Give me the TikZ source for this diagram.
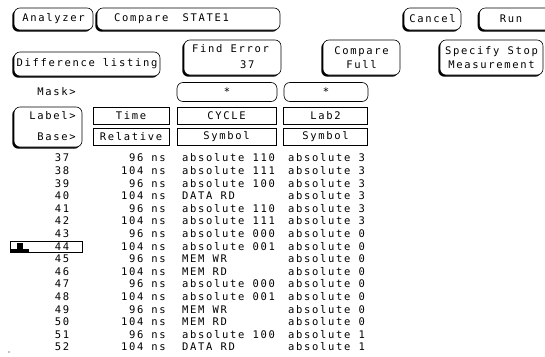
\documentclass[tikz,border=0pt]{standalone}
\usepackage{fontspec}
\setmonofont{DejaVu Sans Mono}[LetterSpace=16]
\usetikzlibrary{shadows}
\begin{document}
\begin{tikzpicture}[x=1pt,y=-1pt,
  every node/.style={font=\ttfamily\fontsize{10.5}{12}\selectfont, inner sep=0pt},
  txt/.style={},
  btn/.style={draw, line width=0.6pt, rounded corners=6pt, fill=white,
    drop shadow={shadow xshift=-1.7pt, shadow yshift=-1.7pt, opacity=1, fill=black}},
  pill/.style={draw, line width=0.6pt, rounded corners=6pt, fill=white},
  hdr/.style={draw, line width=0.6pt, fill=white}]
\useasboundingbox (0,0) rectangle (545,356);
\clip (0,0) rectangle (545,356);
% top row
\node[btn, minimum width=79pt, minimum height=22pt] (analyzer) at (53.5,19) {Analyzer};
\node[btn, minimum width=183pt, minimum height=22pt] (compare) at (188.5,19) {};
\node[txt, anchor=west] (comparet) at (114,19) {Compare\hspace{6pt} STATE1};
\node[btn, minimum width=57pt, minimum height=22pt] (cancel) at (432.5,19) {Cancel};
\node[btn, minimum width=90pt, minimum height=22pt, anchor=west] (run) at (479,19) {};
\node[txt] (runt) at (511,19) {Run};
% second row
\node[btn, minimum width=146pt, minimum height=24pt] (diff) at (87,64) {Difference listing};
\node[btn, minimum width=97pt, minimum height=35pt] (finderr) at (232.5,57.5) {};
\node[txt, anchor=west] (finderrt) at (192,49) {Find Error};
\node[txt, anchor=west] (finderrn) at (240,65) {37};
\node[btn, minimum width=77pt, minimum height=35pt, align=center] (cmpfull) at (361.5,57.5) {Compare\\[2pt]Full};
\node[btn, minimum width=103pt, minimum height=35pt, align=center] (stop) at (491.5,57.5) {Specify Stop\\[2pt]Measurement};
% mask / label / base
\node[txt, anchor=east] (mask) at (76,92) {Mask>};
\node[pill, minimum width=100pt, minimum height=19pt] (mask1) at (227,92) {*};
\node[pill, minimum width=84pt, minimum height=19pt] (mask2) at (326,92) {*};
\node[btn, minimum width=68pt, minimum height=40pt] (labbase) at (48,127) {};
\node[txt, anchor=east] (labelt) at (76,116) {Label>};
\node[txt, anchor=east] (baset) at (76,137) {Base>};
\node[hdr, minimum width=76pt, minimum height=17pt] (time) at (131,116) {Time};
\node[hdr, minimum width=76pt, minimum height=17pt] (rel) at (131,137) {Relative};
\node[hdr, minimum width=99pt, minimum height=17pt] (cycle) at (226.5,116) {CYCLE};
\node[hdr, minimum width=99pt, minimum height=17pt] (sym1) at (226.5,137) {Symbol};
\node[hdr, minimum width=84pt, minimum height=17pt] (lab2) at (325.5,116) {Lab2};
\node[hdr, minimum width=84pt, minimum height=17pt] (sym2) at (325.5,137) {Symbol};
% cursor
\node[hdr, minimum width=72pt, minimum height=11pt] (cursor) at (46,246.6) {};
\fill (11,249) rectangle (29,252);
\fill (17,243) rectangle (23,252);
% data rows
\foreach \n/\t/\c/\l [count=\i from 0] in {
 37/96/absolute 110/absolute 3, 38/104/absolute 111/absolute 3,
 39/96/absolute 100/absolute 3, 40/104/DATA RD/absolute 3,
 41/96/absolute 110/absolute 3, 42/104/absolute 111/absolute 3,
 43/96/absolute 000/absolute 0, 44/104/absolute 001/absolute 0,
 45/96/MEM WR/absolute 0, 46/104/MEM RD/absolute 0,
 47/96/absolute 000/absolute 0, 48/104/absolute 001/absolute 0,
 49/96/MEM WR/absolute 0, 50/104/MEM RD/absolute 0,
 51/96/absolute 100/absolute 1, 52/104/DATA RD/absolute 1}{
  \pgfmathsetmacro{\yy}{158+12.6*\i}
  \node[txt] (n\i) at (62,\yy) {\n};
  \node[txt, anchor=east] (t\i) at (166,\yy) {\t\ ns};
  \node[txt, anchor=west] (c\i) at (182,\yy) {\c};
  \node[txt, anchor=west] (l\i) at (288,\yy) {\l};
}
\fill (9,352) circle (0.6);
\end{tikzpicture}
\end{document}
